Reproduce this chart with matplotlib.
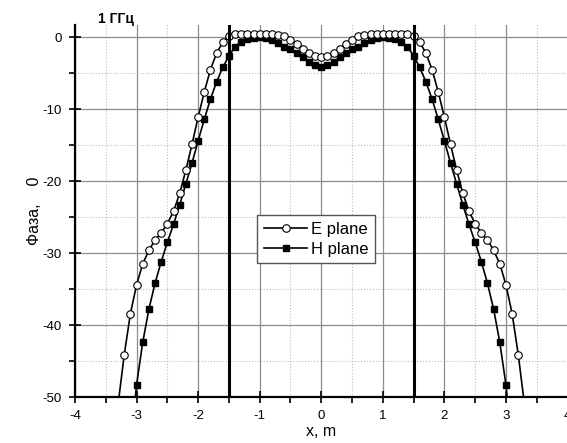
import numpy as np
import matplotlib
matplotlib.use("Agg")
from matplotlib import pyplot as plt
from matplotlib.ticker import MultipleLocator

plt.rcParams['font.family'] = ['Liberation Sans', 'DejaVu Sans']
plt.rcParams['axes.unicode_minus'] = False

# half profiles (|x| from 0 upward, step 0.1), mirrored to negative x
h_half = [-4.1, -3.9, -3.4, -2.8, -2.2, -1.7, -1.3, -0.8, -0.4, -0.15,
          0.0, -0.05, -0.2, -0.6, -1.3, -2.6, -4.2, -6.2, -8.6, -11.4,
          -14.4, -17.5, -20.4, -23.3, -26.0, -28.5, -31.2, -34.2, -37.8, -42.4,
          -48.3, -57.0]
e_half = [-2.8, -2.6, -2.2, -1.6, -0.9, -0.4, 0.1, 0.3, 0.4, 0.4,
          0.4, 0.4, 0.4, 0.4, 0.4, 0.2, -0.7, -2.2, -4.5, -7.6,
          -11.1, -14.9, -18.5, -21.7, -24.2, -25.9, -27.2, -28.2, -29.6, -31.5,
          -34.4, -38.4, -44.1, -51.0]

aperture = [-1.5, 1.5]


def mirror(half):
    n = len(half)
    x_pos = np.round(np.arange(n) * 0.1, 1)
    x = np.concatenate([-x_pos[:0:-1], x_pos])
    y = np.concatenate([half[:0:-1], half])
    return x, y


x_e, y_e = mirror(e_half)
x_h, y_h = mirror(h_half)

fig = plt.figure(figsize=(5.67, 4.43), dpi=100)
ax = fig.add_axes([0.1323, 0.1038, 0.8686, 0.8398])

ax.plot(x_e, y_e, '-', color='black', lw=1.2, marker='o', ms=5.4,
        mfc='white', mec='black', mew=0.8, label='E plane', zorder=4)
ax.plot(x_h, y_h, '-', color='black', lw=1.2, marker='s', ms=4.0,
        mfc='black', mec='black', label='H plane', zorder=3)

for xv in aperture:
    ax.axvline(xv, color='black', lw=2.2, zorder=5)

ax.set_xlim(-4, 4)
ax.set_ylim(-50, 1.7)
ax.xaxis.set_major_locator(MultipleLocator(1))
ax.xaxis.set_minor_locator(MultipleLocator(0.5))
ax.yaxis.set_major_locator(MultipleLocator(10))
ax.yaxis.set_minor_locator(MultipleLocator(5))

ax.grid(which='major', color='#8c8c8c', lw=0.9, ls='-')
ax.grid(which='minor', color='#bdbdbd', lw=0.8, ls=':')
ax.set_axisbelow(True)

ax.spines['top'].set_visible(False)
ax.spines['right'].set_visible(False)
ax.spines['left'].set_linewidth(1.6)
ax.spines['bottom'].set_linewidth(1.6)
ax.tick_params(which='major', direction='inout', length=9, width=1.2,
               labelsize=9.5, pad=5)
ax.tick_params(which='minor', direction='out', length=4, width=1.2)

ax.set_xlabel('x, m', fontsize=11.5, labelpad=1)
ax.set_ylabel('Фаза,    0', fontsize=11.5, labelpad=0)

# legend box sits just left of the axis centre
ax.legend(loc='upper left', bbox_to_anchor=(0.37, 0.489), fontsize=12,
          handlelength=2.6, handletextpad=0.2, borderpad=0.4,
          labelspacing=0.3, fancybox=False, edgecolor='#555555',
          framealpha=1, borderaxespad=0)

fig.text(0.205, 0.958, '1 ГГц', fontsize=10, fontweight='bold',
         ha='center', va='center')

fig.savefig('out.png', dpi=100)
